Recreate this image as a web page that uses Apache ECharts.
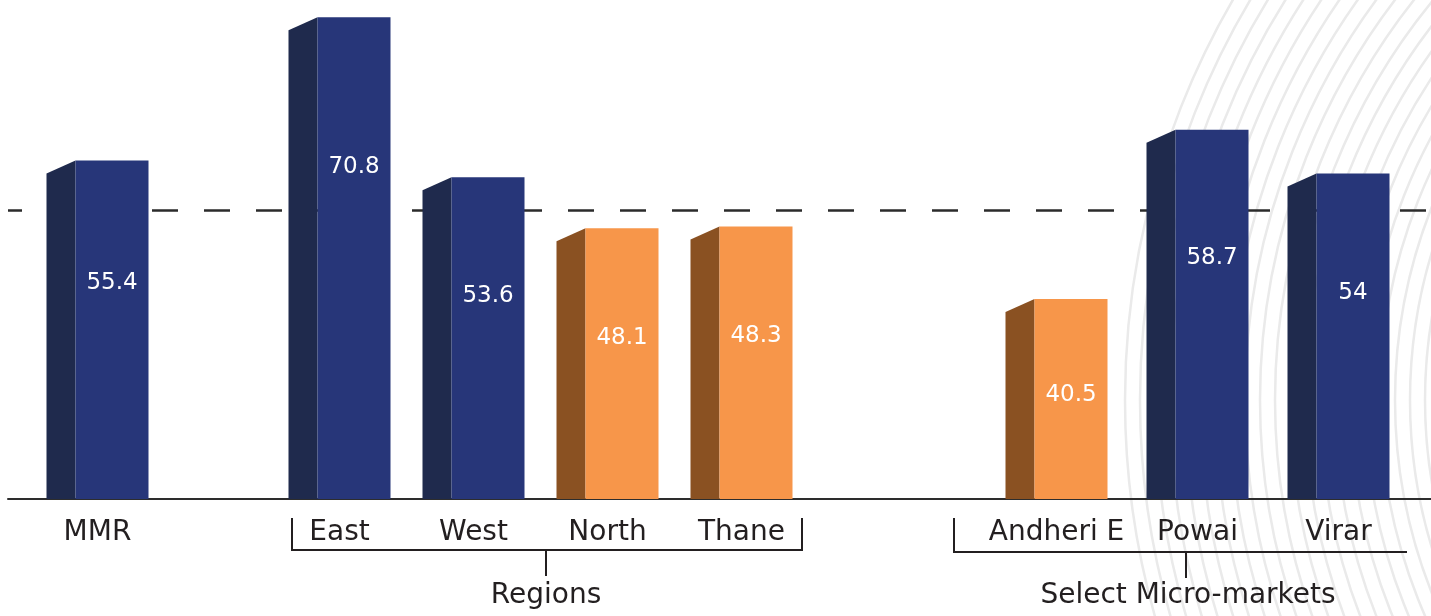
<!DOCTYPE html>
<html>
<head>
<meta charset="utf-8">
<script src="https://cdn.jsdelivr.net/npm/echarts@6/dist/echarts.min.js"></script>
<style>
  html, body { margin: 0; padding: 0; background: #ffffff; }
  #chart { width: 1431px; height: 616px; }
</style>
</head>
<body>
<div id="chart"></div>
<script>
// Affordability index by area (labels stated on bars)
const overallCats = ['MMR'];
const overallVals = [55.4];
const regionCats = ['East', 'West', 'North', 'Thane'];
const regionVals = [70.8, 53.6, 48.1, 48.3];
const microCats = ['Andheri E', 'Powai', 'Virar'];
const microVals = [40.5, 58.7, 54];
const referenceLevel = [50];
const groupNames = ['Regions', 'Select Micro-markets'];

const FONT = '"DejaVu Sans", "Open Sans", sans-serif';
const NAVY = { front: '#273679', side: '#1f2a4d' };
const ORANGE = { front: '#f7964a', side: '#8a5122' };
const Y_MIN = 19, Y_MAX = 72;

function colorFor(v) { return v >= referenceLevel[0] ? NAVY : ORANGE; }

// 3D-looking bar: dark slanted side face on the left, flat front face on the right
function renderBar(params, api) {
  const v = api.value(1);
  const top = api.coord([api.value(0), v]);
  const base = api.coord([api.value(0), Y_MIN]);
  const sideW = 29, frontW = 73, slant = 13;
  const left = top[0] - (sideW + frontW) / 2;
  const mid = left + sideW;
  const c = colorFor(v);
  const h = base[1] - top[1];
  return {
    type: 'group',
    children: [
      { type: 'polygon',
        shape: { points: [[left, top[1] + slant], [mid, top[1]], [mid, base[1]], [left, base[1]]] },
        style: { fill: c.side } },
      { type: 'rect',
        shape: { x: mid, y: top[1], width: frontW, height: h },
        style: { fill: c.front } },
      { type: 'text',
        style: { text: String(v), x: mid + frontW / 2, y: top[1] + 58 + h * 0.19,
                 align: 'center', verticalAlign: 'middle',
                 fill: '#ffffff', font: '23px ' + FONT } }
    ]
  };
}

const chart = echarts.init(document.getElementById('chart'), null, { renderer: 'canvas' });

const gridTop = 6, gridBottom = 117;
const grids = [
  { left: 32.5, width: 130, top: gridTop, bottom: gridBottom },
  { left: 272.5, width: 536, top: gridTop, bottom: gridBottom },
  { left: 986, width: 423, top: gridTop, bottom: gridBottom },
  { left: 8, right: 0, top: gridTop, bottom: gridBottom }
];
const catSets = [overallCats, regionCats, microCats];
const valSets = [overallVals, regionVals, microVals];

const xAxes = catSets.map((cats, i) => ({
  type: 'category', gridIndex: i, data: cats,
  axisLine: { show: false }, axisTick: { show: false },
  axisLabel: { color: '#231f20', fontSize: 28, fontFamily: FONT, margin: 20, interval: 0 }
}));
xAxes.push({
  type: 'value', gridIndex: 3, min: 0, max: 1, show: true,
  axisLine: { show: true, onZero: false, lineStyle: { color: '#2d2d2d', width: 2 } },
  axisTick: { show: false }, axisLabel: { show: false }, splitLine: { show: false }
});

const yAxes = grids.map((g, i) => ({
  type: 'value', gridIndex: i, min: Y_MIN, max: Y_MAX, show: false
}));

const series = valSets.map((vals, i) => ({
  type: 'custom', xAxisIndex: i, yAxisIndex: i, z: 10,
  renderItem: renderBar,
  data: vals.map((v, k) => [k, v]),
  clip: false
}));
series.push({
  type: 'line', xAxisIndex: 3, yAxisIndex: 3, data: [], z: 1,
  markLine: {
    silent: true, symbol: 'none', z: 1, label: { show: false },
    lineStyle: { color: '#2b2b2b', width: 2.5, type: [26, 26], dashOffset: 12 },
    data: [{ yAxis: referenceLevel[0] }]
  }
});

// concentric decorative rings at the right edge
const rings = [];
for (let r = 480; r <= 800; r += 15) {
  rings.push({
    type: 'circle', z: -10, silent: true,
    shape: { cx: 1920, cy: 400, r: r },
    style: { fill: 'none', stroke: '#eaeaea', lineWidth: 2.5 }
  });
}

const lineStyle = { stroke: '#231f20', lineWidth: 2 };
const brackets = [
  { type: 'polyline', shape: { points: [[292, 518], [292, 550], [802, 550], [802, 518]] }, style: Object.assign({ fill: 'none' }, lineStyle) },
  { type: 'line', shape: { x1: 546, y1: 550, x2: 546, y2: 576 }, style: lineStyle },
  { type: 'text', style: { text: groupNames[0], x: 546, y: 596, align: 'center', verticalAlign: 'middle', fill: '#231f20', font: '28px ' + FONT } },
  { type: 'polyline', shape: { points: [[954, 518], [954, 552], [1407, 552]] }, style: Object.assign({ fill: 'none' }, lineStyle) },
  { type: 'line', shape: { x1: 1186, y1: 552, x2: 1186, y2: 578 }, style: lineStyle },
  { type: 'text', style: { text: groupNames[1], x: 1188, y: 596, align: 'center', verticalAlign: 'middle', fill: '#231f20', font: '28px ' + FONT } }
];

chart.setOption({
  backgroundColor: '#ffffff',
  animation: false,
  grid: grids,
  xAxis: xAxes,
  yAxis: yAxes,
  series: series,
  graphic: rings.concat(brackets)
});
</script>
</body>
</html>
